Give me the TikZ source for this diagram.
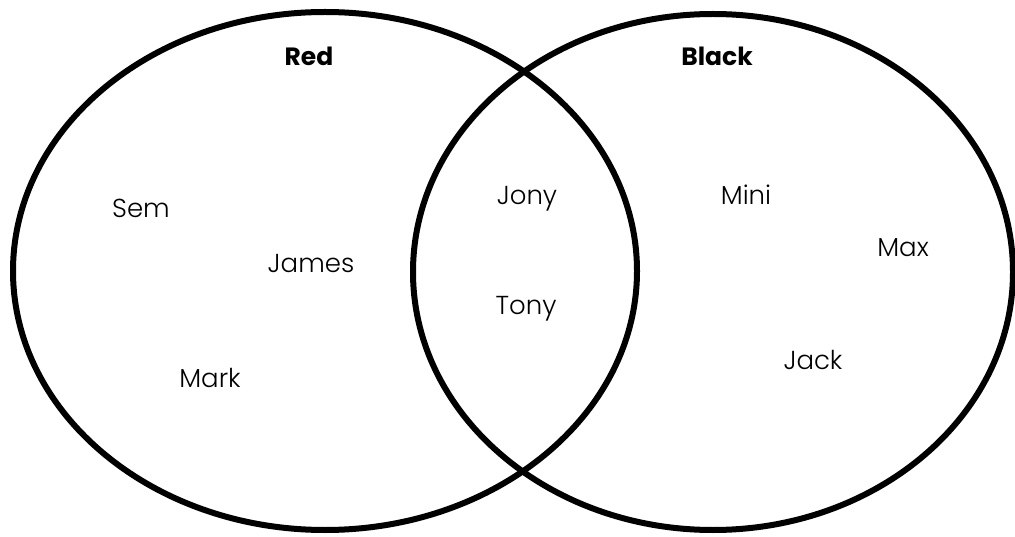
\documentclass[tikz,border=0pt]{standalone}
\usepackage{fontspec}
\setmainfont{Poppins}[UprightFont=* Light, BoldFont=* Bold]
\begin{document}
\begin{tikzpicture}[x=1pt,y=-1pt,
  setline/.style={line width=6pt,draw=black},
  lbl/.style={font=\fontsize{26}{30}\selectfont,inner sep=0pt,anchor=base},
  ttl/.style={font=\fontsize{25}{30}\selectfont\bfseries,inner sep=0pt,anchor=base}]
\useasboundingbox[fill=white] (0,0) rectangle (1015,537);
\draw[setline] (325,271) ellipse [x radius=312, y radius=259];
\draw[setline] (713,272) ellipse [x radius=300, y radius=258];
\node[ttl] (red) at (309,66) {Red};
\node[ttl] (black) at (717,66) {Black};
\node[lbl] (sem) at (141,218) {Sem};
\node[lbl] (james) at (311,273) {James};
\node[lbl] (mark) at (210,387) {Mark};
\node[lbl] (jony) at (527,205) {Jony};
\node[lbl] (tony) at (526,315) {Tony};
\node[lbl] (mini) at (746,205) {Mini};
\node[lbl] (max) at (903,257) {Max};
\node[lbl] (jack) at (813,370) {Jack};
\end{tikzpicture}
\end{document}
